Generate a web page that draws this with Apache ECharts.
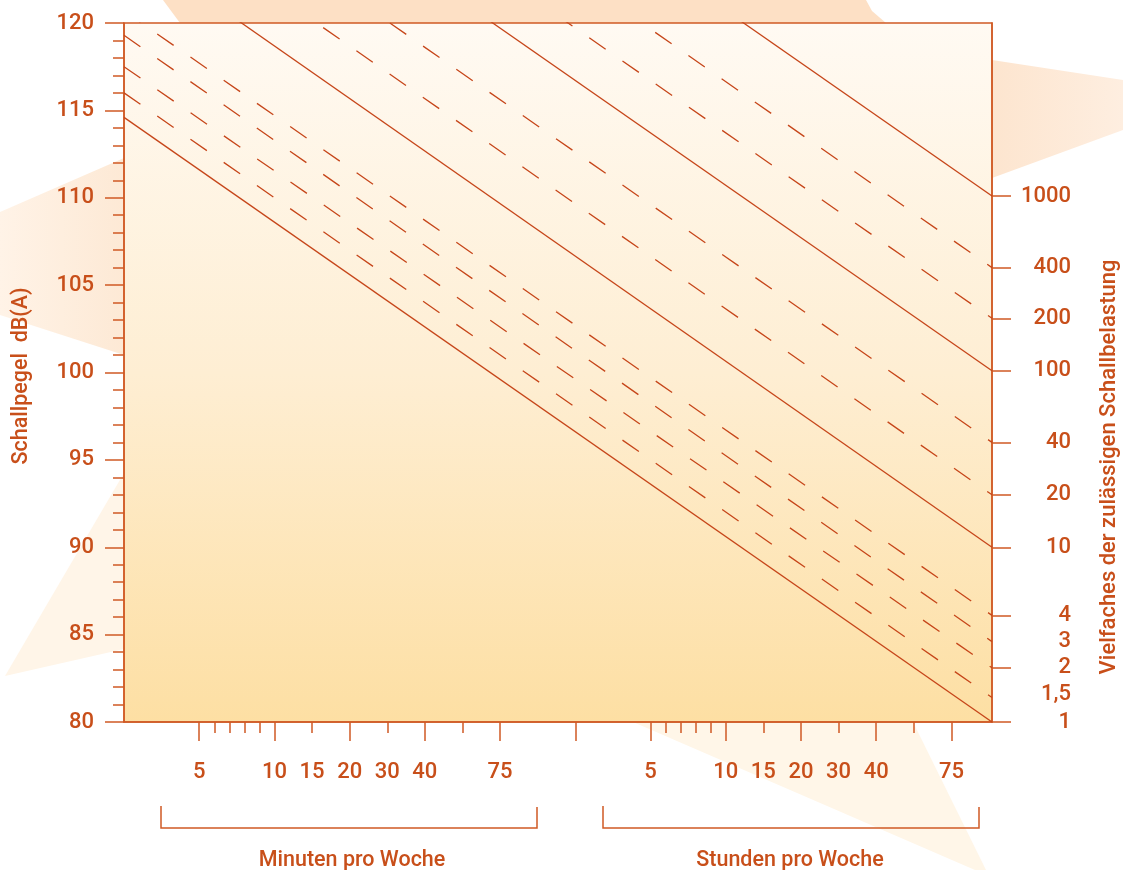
<!DOCTYPE html>
<html><head><meta charset="utf-8">
<script src="https://cdn.jsdelivr.net/npm/echarts@6/dist/echarts.min.js"></script>
<style>html,body{margin:0;padding:0;background:#fff}#c{width:1123px;height:870px}</style>
</head><body><div id="c"></div><script>
// ---- X axis: exposure time, one long tick = doubling of time ----
const xMin = 0, xMax = 11.54;
const xLongTicks = [1,2,3,4,5,6,7,8,9,10,11];
const xShortTicks = [1.2,1.4,1.6,1.8,2.5,3.5,4.5,7.2,7.4,7.6,7.8,8.5,9.5,10.5];
const xLabelPos  = [1,2,2.5,3,3.5,4,5,7,8,8.5,9,9.5,10,11];
const xLabelText = ['5','10','15','20','30','40','75','5','10','15','20','30','40','75'];
// ---- Right axis: multiple of the permitted noise exposure ----
const factorLabels  = ['1','1,5','2','3','4','10','20','40','100','200','400','1000'];
const factorLabelDb = [80,81.6,83.1,84.6,86.1,90,93,96,100.1,103.1,106,110.1];
const factorTickDb  = [80,83.1,86.1,90,93,96,100.1,103.1,106,110.1];
// ---- Equal-exposure lines (dB at left edge, dB at right edge) ----
const lineNames   = ['1','1,5','2','3','4','10','20','40','100','200','400','1000'];
const lineDashed  = [false,true,true,true,true,false,true,true,false,true,true,false];
const lineLeftDb  = [114.6,116.0,117.5,119.3,120.7,124.7,127.7,130.6,134.7,137.7,140.7,144.7];
const lineRightDb = [80,81.4,83.1,84.6,86.1,90,93,96,100.1,103.1,106,110.1];

const TXT = '#c84f1a', AX = '#d05a25', LINE = '#c6461a';
const FONT = 'Roboto, "Open Sans", sans-serif';
const FW = 500;

function lookup(vals, texts, v){
  for (let i=0;i<vals.length;i++) if (Math.abs(vals[i]-v) < 1e-6) return texts[i];
  return '';
}

const chart = echarts.init(document.getElementById('c'), null, {renderer:'canvas'});
chart.setOption({
  animation:false,
  backgroundColor:'#ffffff',
  textStyle:{fontFamily:FONT},
  grid:{left:124, top:23, right:131, bottom:148, show:true, borderColor:AX, borderWidth:1.5,
    backgroundColor:{type:'linear',x:0,y:0,x2:0,y2:1,colorStops:[
      {offset:0,color:'#fffaf3'},{offset:0.5,color:'#feeed3'},{offset:1,color:'#fddfa3'}]}},
  graphic:[
    {type:'polygon', z:-10, shape:{points:[[163,0],[866,0],[872,11],[886,23],[180,23]]}, style:{fill:'#fde0c5'}},
    {type:'polygon', z:-10, shape:{points:[[992,60],[1123,80],[1123,130],[992,178]]},
      style:{fill:{type:'linear',x:0,y:0,x2:1,y2:0,colorStops:[{offset:0,color:'#fde5cf'},{offset:1,color:'#feeee0'}]}}},
    {type:'polygon', z:-10, shape:{points:[[0,212],[124,158],[124,355],[0,315]]},
      style:{fill:{type:'linear',x:0,y:0,x2:1,y2:0,colorStops:[{offset:0,color:'#fff3e7'},{offset:1,color:'#fde9d5'}]}}},
    {type:'polygon', z:-10, shape:{points:[[5,676],[124,473],[124,649]]}, style:{fill:'#fff5e8'}},
    {type:'polygon', z:-10, shape:{points:[[633,722],[913,722],[986,870],[975,870]]}, style:{fill:'#fff6e8'}},
    {type:'polyline', z:10, shape:{points:[[161,806],[161,828],[537,828],[537,807]]}, style:{stroke:AX, lineWidth:1.5, fill:null}},
    {type:'polyline', z:10, shape:{points:[[603,806],[603,828],[979,828],[979,807]]}, style:{stroke:AX, lineWidth:1.5, fill:null}},
    {type:'text', z:10, x:352, y:861, style:{text:'Minuten pro Woche', fill:TXT, font:FW+' 21.5px '+FONT, align:'center', verticalAlign:'middle'}},
    {type:'text', z:10, x:790, y:861, style:{text:'Stunden pro Woche', fill:TXT, font:FW+' 21.5px '+FONT, align:'center', verticalAlign:'middle'}},
    {type:'text', z:10, x:22, y:376, rotation:Math.PI/2, style:{text:'Schallpegel  dB(A)', fill:TXT, font:FW+' 21.5px '+FONT, align:'center', verticalAlign:'middle'}},
    {type:'text', z:10, x:1109, y:467, rotation:Math.PI/2, style:{text:'Vielfaches der zulässigen Schallbelastung', fill:TXT, font:FW+' 22px '+FONT, align:'center', verticalAlign:'middle'}}
  ],
  xAxis:[
    {type:'value', min:xMin, max:xMax, position:'bottom',
      axisLine:{show:true, onZero:false, lineStyle:{color:AX, width:1.5}},
      axisTick:{show:true, customValues:xLongTicks, length:19, lineStyle:{color:AX, width:1.5}},
      axisLabel:{show:true, customValues:xLabelPos, margin:39, color:TXT, fontSize:22, fontWeight:FW, fontFamily:FONT,
        formatter:v=>lookup(xLabelPos, xLabelText, v)},
      splitLine:{show:false}},
    {type:'value', min:xMin, max:xMax, position:'bottom',
      axisLine:{show:false, onZero:false},
      axisTick:{show:true, customValues:xShortTicks, length:11, lineStyle:{color:AX, width:1.5}},
      axisLabel:{show:false}, splitLine:{show:false}}
  ],
  yAxis:[
    {type:'value', min:80, max:120, interval:5, position:'left',
      axisLine:{show:true, onZero:false, lineStyle:{color:AX, width:1.5}},
      axisTick:{show:true, length:19, lineStyle:{color:AX, width:1.5}},
      minorTick:{show:true, splitNumber:5, length:11, lineStyle:{color:AX, width:1.5}},
      axisLabel:{margin:30, color:TXT, fontSize:22, fontWeight:FW, fontFamily:FONT},
      splitLine:{show:false}},
    {type:'value', min:80, max:120, position:'right',
      axisLine:{show:true, onZero:false, lineStyle:{color:AX, width:1.5}},
      axisTick:{show:true, customValues:factorTickDb, length:19, lineStyle:{color:AX, width:1.5}},
      axisLabel:{show:true, customValues:factorLabelDb, margin:79, align:'right', color:TXT, fontSize:22, fontWeight:FW, fontFamily:FONT,
        formatter:v=>lookup(factorLabelDb, factorLabels, v)},
      splitLine:{show:false}}
  ],
  series: lineNames.map((n,i)=>({
    type:'line', name:n, xAxisIndex:0, yAxisIndex:0, silent:true, clip:true,
    symbol:'none', showSymbol:false,
    data:[[xMin, lineLeftDb[i]],[xMax, lineRightDb[i]]],
    lineStyle:{color:LINE, width:1.3, type: lineDashed[i] ? [20,20.5] : 'solid'}
  }))
});
</script></body></html>
